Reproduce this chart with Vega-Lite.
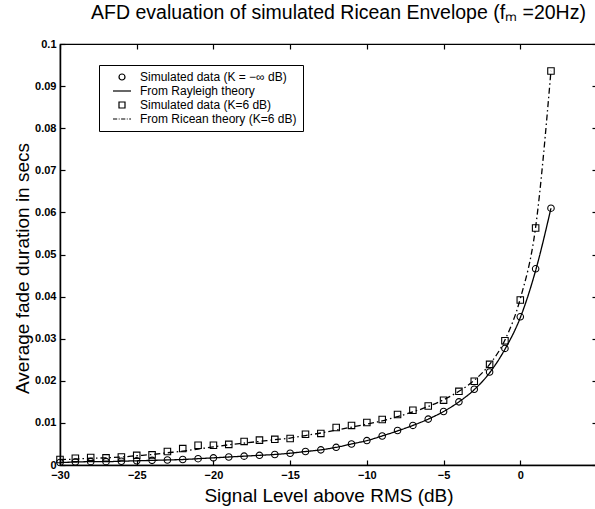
{
  "$schema": "https://vega.github.io/schema/vega-lite/v6.json",
  "width": 537,
  "height": 421,
  "autosize": {"type": "none"},
  "padding": {"left": 60, "top": 44, "right": 0, "bottom": 44},
  "background": "white",
  "config": {
    "font": "Liberation Sans",
    "view": {"stroke": "black", "strokeWidth": 1.2},
    "axis": {"domainColor": "black", "tickColor": "black", "labelColor": "black", "titleColor": "black", "grid": false}
  },
  "title": {"text": "AFD evaluation of simulated Ricean Envelope (fₘ =20Hz)", "fontSize": 19.5, "fontWeight": "normal", "anchor": "middle", "dx": 10, "offset": 15, "color": "black", "font": "Liberation Sans"},
  "datasets": {
    "afd": [
      {"dB": -30, "value": 0.0006, "series": "Simulated data (K = −∞ dB)", "kind": "point"},
      {"dB": -29, "value": 0.0007, "series": "Simulated data (K = −∞ dB)", "kind": "point"},
      {"dB": -28, "value": 0.0008, "series": "Simulated data (K = −∞ dB)", "kind": "point"},
      {"dB": -27, "value": 0.0008, "series": "Simulated data (K = −∞ dB)", "kind": "point"},
      {"dB": -26, "value": 0.0009, "series": "Simulated data (K = −∞ dB)", "kind": "point"},
      {"dB": -25, "value": 0.0010, "series": "Simulated data (K = −∞ dB)", "kind": "point"},
      {"dB": -24, "value": 0.0011, "series": "Simulated data (K = −∞ dB)", "kind": "point"},
      {"dB": -23, "value": 0.0012, "series": "Simulated data (K = −∞ dB)", "kind": "point"},
      {"dB": -22, "value": 0.0013, "series": "Simulated data (K = −∞ dB)", "kind": "point"},
      {"dB": -21, "value": 0.0015, "series": "Simulated data (K = −∞ dB)", "kind": "point"},
      {"dB": -20, "value": 0.0017, "series": "Simulated data (K = −∞ dB)", "kind": "point"},
      {"dB": -19, "value": 0.0019, "series": "Simulated data (K = −∞ dB)", "kind": "point"},
      {"dB": -18, "value": 0.0021, "series": "Simulated data (K = −∞ dB)", "kind": "point"},
      {"dB": -17, "value": 0.0023, "series": "Simulated data (K = −∞ dB)", "kind": "point"},
      {"dB": -16, "value": 0.0025, "series": "Simulated data (K = −∞ dB)", "kind": "point"},
      {"dB": -15, "value": 0.0028, "series": "Simulated data (K = −∞ dB)", "kind": "point"},
      {"dB": -14, "value": 0.0032, "series": "Simulated data (K = −∞ dB)", "kind": "point"},
      {"dB": -13, "value": 0.0036, "series": "Simulated data (K = −∞ dB)", "kind": "point"},
      {"dB": -12, "value": 0.0042, "series": "Simulated data (K = −∞ dB)", "kind": "point"},
      {"dB": -11, "value": 0.0050, "series": "Simulated data (K = −∞ dB)", "kind": "point"},
      {"dB": -10, "value": 0.0058, "series": "Simulated data (K = −∞ dB)", "kind": "point"},
      {"dB": -9, "value": 0.0069, "series": "Simulated data (K = −∞ dB)", "kind": "point"},
      {"dB": -8, "value": 0.0082, "series": "Simulated data (K = −∞ dB)", "kind": "point"},
      {"dB": -7, "value": 0.0094, "series": "Simulated data (K = −∞ dB)", "kind": "point"},
      {"dB": -6, "value": 0.0109, "series": "Simulated data (K = −∞ dB)", "kind": "point"},
      {"dB": -5, "value": 0.0127, "series": "Simulated data (K = −∞ dB)", "kind": "point"},
      {"dB": -4, "value": 0.0150, "series": "Simulated data (K = −∞ dB)", "kind": "point"},
      {"dB": -3, "value": 0.0180, "series": "Simulated data (K = −∞ dB)", "kind": "point"},
      {"dB": -2, "value": 0.0221, "series": "Simulated data (K = −∞ dB)", "kind": "point"},
      {"dB": -1, "value": 0.0277, "series": "Simulated data (K = −∞ dB)", "kind": "point"},
      {"dB": 0, "value": 0.0352, "series": "Simulated data (K = −∞ dB)", "kind": "point"},
      {"dB": 1, "value": 0.0466, "series": "Simulated data (K = −∞ dB)", "kind": "point"},
      {"dB": 2, "value": 0.0610, "series": "Simulated data (K = −∞ dB)", "kind": "point"},

      {"dB": -30, "value": 0.0006, "series": "From Rayleigh theory", "kind": "line"},
      {"dB": -29, "value": 0.0007, "series": "From Rayleigh theory", "kind": "line"},
      {"dB": -28, "value": 0.0008, "series": "From Rayleigh theory", "kind": "line"},
      {"dB": -27, "value": 0.0008, "series": "From Rayleigh theory", "kind": "line"},
      {"dB": -26, "value": 0.0009, "series": "From Rayleigh theory", "kind": "line"},
      {"dB": -25, "value": 0.0010, "series": "From Rayleigh theory", "kind": "line"},
      {"dB": -24, "value": 0.0011, "series": "From Rayleigh theory", "kind": "line"},
      {"dB": -23, "value": 0.0012, "series": "From Rayleigh theory", "kind": "line"},
      {"dB": -22, "value": 0.0013, "series": "From Rayleigh theory", "kind": "line"},
      {"dB": -21, "value": 0.0015, "series": "From Rayleigh theory", "kind": "line"},
      {"dB": -20, "value": 0.0017, "series": "From Rayleigh theory", "kind": "line"},
      {"dB": -19, "value": 0.0019, "series": "From Rayleigh theory", "kind": "line"},
      {"dB": -18, "value": 0.0021, "series": "From Rayleigh theory", "kind": "line"},
      {"dB": -17, "value": 0.0023, "series": "From Rayleigh theory", "kind": "line"},
      {"dB": -16, "value": 0.0025, "series": "From Rayleigh theory", "kind": "line"},
      {"dB": -15, "value": 0.0028, "series": "From Rayleigh theory", "kind": "line"},
      {"dB": -14, "value": 0.0032, "series": "From Rayleigh theory", "kind": "line"},
      {"dB": -13, "value": 0.0036, "series": "From Rayleigh theory", "kind": "line"},
      {"dB": -12, "value": 0.0042, "series": "From Rayleigh theory", "kind": "line"},
      {"dB": -11, "value": 0.0050, "series": "From Rayleigh theory", "kind": "line"},
      {"dB": -10, "value": 0.0058, "series": "From Rayleigh theory", "kind": "line"},
      {"dB": -9, "value": 0.0069, "series": "From Rayleigh theory", "kind": "line"},
      {"dB": -8, "value": 0.0081, "series": "From Rayleigh theory", "kind": "line"},
      {"dB": -7, "value": 0.0094, "series": "From Rayleigh theory", "kind": "line"},
      {"dB": -6, "value": 0.0109, "series": "From Rayleigh theory", "kind": "line"},
      {"dB": -5, "value": 0.0127, "series": "From Rayleigh theory", "kind": "line"},
      {"dB": -4, "value": 0.0150, "series": "From Rayleigh theory", "kind": "line"},
      {"dB": -3, "value": 0.0179, "series": "From Rayleigh theory", "kind": "line"},
      {"dB": -2, "value": 0.0219, "series": "From Rayleigh theory", "kind": "line"},
      {"dB": -1, "value": 0.0275, "series": "From Rayleigh theory", "kind": "line"},
      {"dB": 0, "value": 0.0350, "series": "From Rayleigh theory", "kind": "line"},
      {"dB": 1, "value": 0.0462, "series": "From Rayleigh theory", "kind": "line"},
      {"dB": 2, "value": 0.0610, "series": "From Rayleigh theory", "kind": "line"},

      {"dB": -30, "value": 0.0013, "series": "Simulated data (K=6 dB)", "kind": "point"},
      {"dB": -29, "value": 0.0016, "series": "Simulated data (K=6 dB)", "kind": "point"},
      {"dB": -28, "value": 0.0018, "series": "Simulated data (K=6 dB)", "kind": "point"},
      {"dB": -27, "value": 0.0017, "series": "Simulated data (K=6 dB)", "kind": "point"},
      {"dB": -26, "value": 0.0019, "series": "Simulated data (K=6 dB)", "kind": "point"},
      {"dB": -25, "value": 0.0023, "series": "Simulated data (K=6 dB)", "kind": "point"},
      {"dB": -24, "value": 0.0024, "series": "Simulated data (K=6 dB)", "kind": "point"},
      {"dB": -23, "value": 0.0032, "series": "Simulated data (K=6 dB)", "kind": "point"},
      {"dB": -22, "value": 0.0039, "series": "Simulated data (K=6 dB)", "kind": "point"},
      {"dB": -21, "value": 0.0047, "series": "Simulated data (K=6 dB)", "kind": "point"},
      {"dB": -20, "value": 0.0047, "series": "Simulated data (K=6 dB)", "kind": "point"},
      {"dB": -19, "value": 0.0049, "series": "Simulated data (K=6 dB)", "kind": "point"},
      {"dB": -18, "value": 0.0056, "series": "Simulated data (K=6 dB)", "kind": "point"},
      {"dB": -17, "value": 0.0059, "series": "Simulated data (K=6 dB)", "kind": "point"},
      {"dB": -16, "value": 0.0061, "series": "Simulated data (K=6 dB)", "kind": "point"},
      {"dB": -15, "value": 0.0063, "series": "Simulated data (K=6 dB)", "kind": "point"},
      {"dB": -14, "value": 0.0073, "series": "Simulated data (K=6 dB)", "kind": "point"},
      {"dB": -13, "value": 0.0075, "series": "Simulated data (K=6 dB)", "kind": "point"},
      {"dB": -12, "value": 0.0089, "series": "Simulated data (K=6 dB)", "kind": "point"},
      {"dB": -11, "value": 0.0094, "series": "Simulated data (K=6 dB)", "kind": "point"},
      {"dB": -10, "value": 0.0101, "series": "Simulated data (K=6 dB)", "kind": "point"},
      {"dB": -9, "value": 0.0108, "series": "Simulated data (K=6 dB)", "kind": "point"},
      {"dB": -8, "value": 0.0120, "series": "Simulated data (K=6 dB)", "kind": "point"},
      {"dB": -7, "value": 0.0130, "series": "Simulated data (K=6 dB)", "kind": "point"},
      {"dB": -6, "value": 0.0140, "series": "Simulated data (K=6 dB)", "kind": "point"},
      {"dB": -5, "value": 0.0154, "series": "Simulated data (K=6 dB)", "kind": "point"},
      {"dB": -4, "value": 0.0175, "series": "Simulated data (K=6 dB)", "kind": "point"},
      {"dB": -3, "value": 0.0199, "series": "Simulated data (K=6 dB)", "kind": "point"},
      {"dB": -2, "value": 0.0239, "series": "Simulated data (K=6 dB)", "kind": "point"},
      {"dB": -1, "value": 0.0295, "series": "Simulated data (K=6 dB)", "kind": "point"},
      {"dB": 0, "value": 0.0392, "series": "Simulated data (K=6 dB)", "kind": "point"},
      {"dB": 1, "value": 0.0563, "series": "Simulated data (K=6 dB)", "kind": "point"},
      {"dB": 2, "value": 0.0936, "series": "Simulated data (K=6 dB)", "kind": "point"},

      {"dB": -30, "value": 0.0013, "series": "From Ricean theory (K=6 dB)", "kind": "line"},
      {"dB": -29, "value": 0.0014, "series": "From Ricean theory (K=6 dB)", "kind": "line"},
      {"dB": -28, "value": 0.0016, "series": "From Ricean theory (K=6 dB)", "kind": "line"},
      {"dB": -27, "value": 0.0017, "series": "From Ricean theory (K=6 dB)", "kind": "line"},
      {"dB": -26, "value": 0.0019, "series": "From Ricean theory (K=6 dB)", "kind": "line"},
      {"dB": -25, "value": 0.0022, "series": "From Ricean theory (K=6 dB)", "kind": "line"},
      {"dB": -24, "value": 0.0025, "series": "From Ricean theory (K=6 dB)", "kind": "line"},
      {"dB": -23, "value": 0.0029, "series": "From Ricean theory (K=6 dB)", "kind": "line"},
      {"dB": -22, "value": 0.0033, "series": "From Ricean theory (K=6 dB)", "kind": "line"},
      {"dB": -21, "value": 0.0038, "series": "From Ricean theory (K=6 dB)", "kind": "line"},
      {"dB": -20, "value": 0.0043, "series": "From Ricean theory (K=6 dB)", "kind": "line"},
      {"dB": -19, "value": 0.0048, "series": "From Ricean theory (K=6 dB)", "kind": "line"},
      {"dB": -18, "value": 0.0052, "series": "From Ricean theory (K=6 dB)", "kind": "line"},
      {"dB": -17, "value": 0.0056, "series": "From Ricean theory (K=6 dB)", "kind": "line"},
      {"dB": -16, "value": 0.0060, "series": "From Ricean theory (K=6 dB)", "kind": "line"},
      {"dB": -15, "value": 0.0064, "series": "From Ricean theory (K=6 dB)", "kind": "line"},
      {"dB": -14, "value": 0.0070, "series": "From Ricean theory (K=6 dB)", "kind": "line"},
      {"dB": -13, "value": 0.0076, "series": "From Ricean theory (K=6 dB)", "kind": "line"},
      {"dB": -12, "value": 0.0083, "series": "From Ricean theory (K=6 dB)", "kind": "line"},
      {"dB": -11, "value": 0.0090, "series": "From Ricean theory (K=6 dB)", "kind": "line"},
      {"dB": -10, "value": 0.0097, "series": "From Ricean theory (K=6 dB)", "kind": "line"},
      {"dB": -9, "value": 0.0105, "series": "From Ricean theory (K=6 dB)", "kind": "line"},
      {"dB": -8, "value": 0.0115, "series": "From Ricean theory (K=6 dB)", "kind": "line"},
      {"dB": -7, "value": 0.0126, "series": "From Ricean theory (K=6 dB)", "kind": "line"},
      {"dB": -6, "value": 0.0139, "series": "From Ricean theory (K=6 dB)", "kind": "line"},
      {"dB": -5, "value": 0.0155, "series": "From Ricean theory (K=6 dB)", "kind": "line"},
      {"dB": -4, "value": 0.0175, "series": "From Ricean theory (K=6 dB)", "kind": "line"},
      {"dB": -3, "value": 0.0201, "series": "From Ricean theory (K=6 dB)", "kind": "line"},
      {"dB": -2, "value": 0.0239, "series": "From Ricean theory (K=6 dB)", "kind": "line"},
      {"dB": -1, "value": 0.0297, "series": "From Ricean theory (K=6 dB)", "kind": "line"},
      {"dB": 0, "value": 0.0395, "series": "From Ricean theory (K=6 dB)", "kind": "line"},
      {"dB": 1, "value": 0.0565, "series": "From Ricean theory (K=6 dB)", "kind": "line"},
      {"dB": 2, "value": 0.0936, "series": "From Ricean theory (K=6 dB)", "kind": "line"}
    ]
  },
  "data": {"name": "afd"},
  "layer": [
    {
      "transform": [{"filter": "datum.kind === 'line'"}],
      "mark": {"type": "line", "color": "black", "strokeWidth": 1.3, "interpolate": "monotone"},
      "encoding": {
        "x": {"field": "dB", "type": "quantitative", "scale": {"domain": [-30, 5], "nice": false, "zero": false},
          "axis": {"orient": "bottom", "values": [-30, -25, -20, -15, -10, -5, 0, 5], "labelExpr": "datum.value > 0 ? '' : datum.label", "title": "Signal Level above RMS (dB)", "titleFontSize": 19, "titleFontWeight": "normal", "titlePadding": 6, "labelFontSize": 11, "labelFontWeight": "bold", "tickSize": -5, "labelPadding": 9, "domainWidth": 1.5, "tickWidth": 1.2, "labelFlush": false}},
        "y": {"field": "value", "type": "quantitative", "scale": {"domain": [0, 0.1], "nice": false},
          "axis": {"orient": "left", "values": [0, 0.01, 0.02, 0.03, 0.04, 0.05, 0.06, 0.07, 0.08, 0.09, 0.1], "labelExpr": "datum.value == 0 ? '0' : format(datum.value, '.2~f')", "title": "Average fade duration in secs", "titleFontSize": 19, "titleFontWeight": "normal", "titlePadding": 2, "titleY": 224, "labelFontSize": 11, "labelFontWeight": "bold", "tickSize": -5, "labelPadding": 9, "domainWidth": 1.5, "tickWidth": 1.2, "labelFlush": false}},
        "detail": {"field": "series"},
        "strokeDash": {"field": "series", "type": "nominal", "scale": {"domain": ["From Rayleigh theory", "From Ricean theory (K=6 dB)"], "range": [[1, 0], [6, 3, 1.5, 3]]}, "legend": null}
      }
    },
    {
      "transform": [{"filter": "datum.kind === 'point'"}],
      "mark": {"type": "point", "filled": false, "color": "black", "strokeWidth": 1.1, "size": 42, "opacity": 1},
      "encoding": {
        "x": {"field": "dB", "type": "quantitative",
          "axis": {"orient": "top", "values": [-30, -25, -20, -15, -10, -5, 0, 5], "labels": false, "title": null, "domain": false, "tickSize": -5, "tickWidth": 1.2}},
        "y": {"field": "value", "type": "quantitative",
          "axis": {"orient": "right", "values": [0, 0.01, 0.02, 0.03, 0.04, 0.05, 0.06, 0.07, 0.08, 0.09, 0.1], "labels": false, "title": null, "domain": false, "tickSize": -5, "tickWidth": 1.2}},
        "shape": {"field": "series", "type": "nominal",
          "scale": {"domain": ["Simulated data (K = −∞ dB)", "From Rayleigh theory", "Simulated data (K=6 dB)", "From Ricean theory (K=6 dB)"], "range": ["circle", "M-3,0H3", "square", "M-3,0H-1.6M-1.1,0H-0.8M-0.3,0H1.1M1.6,0H1.9M2.4,0H3"]},
          "legend": {"title": null, "orient": "none", "legendX": 39, "legendY": 21, "strokeColor": "black", "fillColor": "white", "padding": 6, "rowPadding": 2, "labelFontSize": 12, "labelColor": "black", "symbolOffset": 11, "labelOffset": 12, "labelLimit": 300, "symbolSize": 36, "symbolStrokeColor": "black", "symbolFillColor": "transparent", "symbolStrokeWidth": 1.2}
        }
      }
    }
  ],
  "resolve": {"axis": {"x": "independent", "y": "independent"}}
}
